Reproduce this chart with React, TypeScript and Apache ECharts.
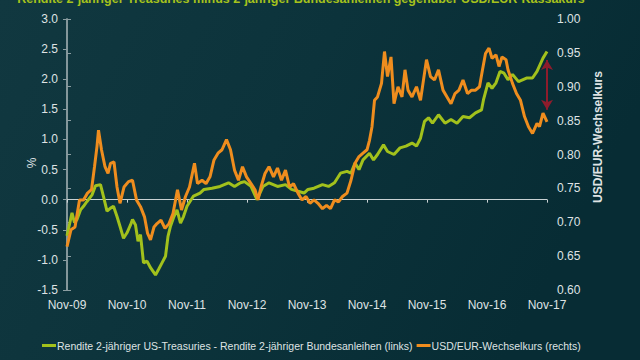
import React, { useEffect, useRef } from "react";
import * as echarts from "echarts";

const titleText =
  "Rendite 2-jähriger Treasuries minus 2-jähriger Bundesanleihen gegenüber USD/EUR-Kassakurs";
const tickLabels = ["Nov-09", "Nov-10", "Nov-11", "Nov-12", "Nov-13", "Nov-14", "Nov-15", "Nov-16", "Nov-17"];
const seriesNames = [
  "Rendite 2-jähriger US-Treasuries - Rendite 2-jähriger Bundesanleihen (links)",
  "USD/EUR-Wechselkurs (rechts)",
];

// months since Nov-09
const spreadMonths = [0, 1, 1.5, 2, 2.7, 3.3, 4, 5, 5.7, 6.7, 7.3, 8, 8.7, 9.3, 10, 10.7, 11.3, 12, 12.7, 13.1, 13.7, 14.2, 14.7, 15.3, 16, 16.7, 17.7, 18.3, 19, 19.7, 20.2, 20.7, 21.3, 22, 22.7, 23.3, 24, 25.3, 26.6, 27.4, 29, 30.6, 32.3, 33.5, 34.7, 35.5, 36.8, 38, 39.2, 40.4, 42.1, 43.7, 44.9, 46.2, 47.4, 48.2, 49.4, 51.1, 52.3, 53.5, 54.7, 56, 56.8, 57.6, 58.4, 59.2, 60.5, 61.3, 62.1, 63.3, 64.1, 65.4, 66.6, 67.8, 69, 69.9, 70.7, 71.5, 72.3, 73.1, 74.3, 75.6, 76.8, 78, 79.2, 80.5, 81.7, 82.9, 83.3, 84.2, 85, 85.8, 86.6, 87.4, 88.2, 89.1, 90.3, 91.9, 93.1, 94, 95.2, 96];
const spreadValues = [-0.6, -0.22, -0.38, -0.33, -0.17, -0.11, -0.03, 0.08, 0.23, 0.25, 0.05, -0.19, -0.14, -0.11, -0.28, -0.47, -0.64, -0.55, -0.42, -0.33, -0.42, -0.69, -0.58, -1.05, -1.02, -1.13, -1.25, -1.16, -1.05, -0.94, -0.61, -0.44, -0.3, -0.17, -0.39, -0.28, -0.11, 0.06, 0.11, 0.17, 0.19, 0.22, 0.28, 0.22, 0.28, 0.3, 0.22, 0.0, 0.22, 0.28, 0.22, 0.25, 0.17, 0.14, 0.11, 0.17, 0.19, 0.25, 0.22, 0.28, 0.44, 0.47, 0.44, 0.61, 0.5, 0.66, 0.77, 0.66, 0.75, 0.91, 0.8, 0.75, 0.86, 0.89, 0.94, 0.89, 1.02, 1.3, 1.36, 1.27, 1.41, 1.27, 1.33, 1.27, 1.38, 1.36, 1.44, 1.49, 1.66, 1.94, 1.85, 1.94, 2.13, 2.1, 1.99, 2.08, 1.96, 2.02, 2.02, 2.13, 2.35, 2.46];

const fxMonths = [0, 0.8, 1.6, 2.5, 3.3, 4.1, 4.9, 5.5, 6, 6.3, 6.9, 7.6, 8.2, 8.7, 9.4, 10, 10.6, 11.4, 12.3, 13.1, 13.9, 14.7, 15.5, 16.1, 16.7, 17.4, 18, 18.8, 19.6, 20.4, 21.2, 22.1, 22.9, 23.7, 24.5, 25.5, 26.1, 27, 27.8, 28.6, 29.4, 30.2, 31, 31.9, 32.7, 33.5, 34.3, 35.1, 35.9, 36.8, 37.6, 38.2, 38.8, 39.6, 40.4, 41.3, 42.1, 42.9, 43.7, 44.5, 45.3, 46.2, 47, 47.8, 48.6, 49.4, 50.2, 51.1, 51.9, 52.7, 53.5, 54.3, 55.1, 56, 56.8, 57.6, 58.4, 59.2, 60, 60.5, 61, 61.5, 62.1, 62.9, 63.5, 64.1, 64.8, 65.4, 66.2, 67, 67.6, 68.2, 69, 69.9, 70.7, 71.9, 72.7, 73.5, 74.3, 75.2, 76, 76.8, 77.6, 78.4, 79.2, 80.1, 80.9, 81.7, 82.5, 83.1, 83.7, 84.4, 85, 85.8, 86.4, 87, 87.8, 88.2, 89.1, 89.9, 90.7, 91.5, 92.3, 93.1, 94, 94.5, 95.2, 96];
const fxValues = [0.664, 0.689, 0.693, 0.733, 0.733, 0.743, 0.748, 0.782, 0.812, 0.836, 0.807, 0.782, 0.772, 0.787, 0.789, 0.752, 0.728, 0.752, 0.76, 0.762, 0.733, 0.723, 0.708, 0.684, 0.674, 0.693, 0.698, 0.703, 0.691, 0.698, 0.713, 0.748, 0.718, 0.738, 0.752, 0.787, 0.757, 0.762, 0.757, 0.767, 0.792, 0.802, 0.807, 0.822, 0.807, 0.777, 0.762, 0.782, 0.767, 0.757, 0.748, 0.733, 0.752, 0.772, 0.782, 0.767, 0.78, 0.762, 0.777, 0.752, 0.757, 0.743, 0.733, 0.738, 0.728, 0.733, 0.728, 0.72, 0.725, 0.72, 0.733, 0.73, 0.738, 0.743, 0.762, 0.787, 0.797, 0.802, 0.807, 0.821, 0.841, 0.88, 0.885, 0.905, 0.952, 0.915, 0.944, 0.875, 0.9, 0.885, 0.925, 0.895, 0.885, 0.9, 0.88, 0.94, 0.915, 0.91, 0.925, 0.895, 0.885, 0.875, 0.89, 0.895, 0.91, 0.89, 0.895, 0.895, 0.9, 0.925, 0.949, 0.957, 0.942, 0.947, 0.93, 0.944, 0.94, 0.925, 0.905, 0.89, 0.88, 0.856, 0.841, 0.831, 0.846, 0.841, 0.861, 0.848];

const gapArrow = [0.9395, 0.866];

const GREEN = "#a2c11c";
const ORANGE = "#ef8d1e";
const AXIS = "#8c9ea2";
const TXT = "#dfe3e4";
const FONT = "'Liberation Sans', Arial, sans-serif";

export default function App() {
  const ref = useRef<HTMLDivElement>(null);
  useEffect(() => {
    document.body.style.margin = "0";
    const chart = echarts.init(ref.current!, undefined, { renderer: "svg" });
    const spread = spreadMonths.map((m, i) => [m, spreadValues[i]]);
    const fx = fxMonths.map((m, i) => [m, fxValues[i]]);
    chart.setOption({
      animation: false,
      backgroundColor: {
        type: "linear",
        x: 0, y: 0, x2: 1, y2: 0.3,
        colorStops: [
          { offset: 0, color: "#113840" },
          { offset: 0.5, color: "#0c333b" },
          { offset: 1, color: "#072c34" },
        ],
      },
      textStyle: { fontFamily: FONT },
      grid: { left: 67, right: 93, top: 19, bottom: 70 },
      graphic: [
        {
          type: "text",
          x: 301,
          y: -1,
          style: {
            text: titleText,
            fill: "#a6c21c",
            font: "bold 12.5px " + FONT,
            textAlign: "center",
            textVerticalAlign: "middle",
          },
        },
        {
          type: "text",
          x: 32,
          y: 163,
          rotation: Math.PI / 2,
          style: { text: "%", fill: TXT, font: "12px " + FONT, textAlign: "center", textVerticalAlign: "middle" },
        },
        {
          type: "text",
          x: 598,
          y: 137,
          rotation: Math.PI / 2,
          style: {
            text: "USD/EUR-Wechselkurs",
            fill: TXT,
            font: "bold 12px " + FONT,
            textAlign: "center",
            textVerticalAlign: "middle",
          },
        },
      ],
      legend: {
        left: 37,
        top: 335,
        icon: "rect",
        itemWidth: 14,
        itemHeight: 3,
        itemGap: 4,
        textStyle: { color: TXT, fontSize: 10.5, fontFamily: FONT, padding: [0, 0, 0, -4] },
        data: seriesNames,
      },
      xAxis: [
        {
          type: "value",
          min: 0,
          max: 96,
          interval: 12,
          axisLine: { show: false, onZero: false },
          axisTick: { show: false },
          splitLine: { show: false },
          axisLabel: {
            color: TXT,
            fontSize: 12,
            margin: 9,
            formatter: (v: number) => tickLabels[Math.round(v / 12)] ?? "",
          },
        },
        {
          type: "value",
          min: 0,
          max: 96,
          interval: 12,
          position: "bottom",
          axisLine: { show: true, onZero: true, onZeroAxisIndex: 0, lineStyle: { color: "#c9d2d4", width: 1 } },
          axisTick: { show: true, length: 3, lineStyle: { color: "#c9d2d4" } },
          axisLabel: { show: false },
          splitLine: { show: false },
        },
      ],
      yAxis: [
        {
          type: "value",
          min: -1.5,
          max: 3.0,
          interval: 0.5,
          position: "left",
          axisLine: { show: true, lineStyle: { color: AXIS, width: 1.5 } },
          axisTick: { show: true, length: 4, lineStyle: { color: AXIS } },
          splitLine: { show: false },
          axisLabel: { color: TXT, fontSize: 12, margin: 9, formatter: (v: number) => v.toFixed(1) },
        },
        {
          type: "value",
          min: 0.6,
          max: 1.0,
          interval: 0.05,
          position: "right",
          axisLine: { show: true, lineStyle: { color: AXIS, width: 1.5 } },
          axisTick: { show: true, length: 4, lineStyle: { color: AXIS } },
          splitLine: { show: false },
          axisLabel: { color: TXT, fontSize: 12, margin: 10, formatter: (v: number) => v.toFixed(2) },
        },
      ],
      series: [
        {
          name: seriesNames[0],
          type: "line",
          xAxisIndex: 0,
          yAxisIndex: 0,
          data: spread,
          showSymbol: false,
          symbol: "none",
          lineStyle: { color: GREEN, width: 3 },
          itemStyle: { color: GREEN },
        },
        {
          name: seriesNames[1],
          type: "line",
          xAxisIndex: 0,
          yAxisIndex: 1,
          data: fx,
          showSymbol: false,
          symbol: "none",
          lineStyle: { color: ORANGE, width: 3 },
          itemStyle: { color: ORANGE },
          markLine: {
            silent: true,
            symbol: ["arrow", "arrow"],
            symbolSize: [9, 10],
            label: { show: false },
            lineStyle: { color: "#8e1c2c", width: 2, type: "solid" },
            data: [[{ coord: [96, gapArrow[0]] }, { coord: [96, gapArrow[1]] }]],
          },
        },
      ],
    });
    return () => chart.dispose();
  }, []);
  return <div ref={ref} style={{ width: 640, height: 360 }} />;
}
